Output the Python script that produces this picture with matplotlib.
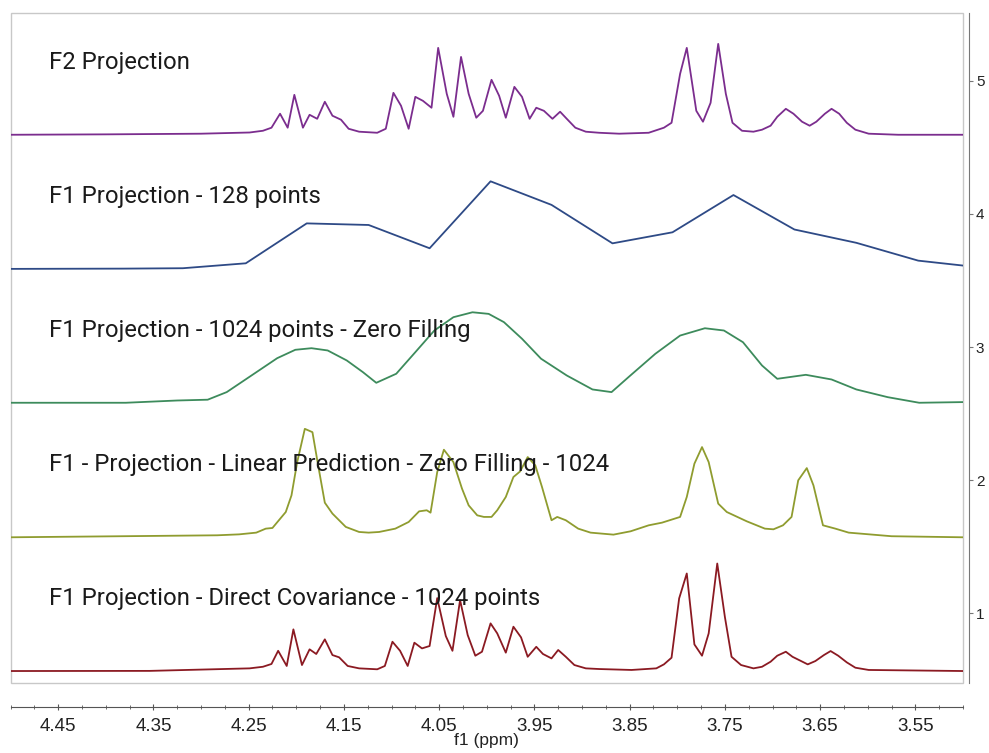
import numpy as np
import matplotlib
matplotlib.use("Agg")
import matplotlib.pyplot as plt
from matplotlib.patches import Rectangle
from matplotlib.ticker import MultipleLocator, FixedLocator

# F2 projection (purple)
f2_ppm = [4.500, 4.400, 4.300, 4.249, 4.235, 4.226, 4.217, 4.209, 4.202, 4.193, 4.186, 4.178, 4.170,
          4.162, 4.153, 4.145, 4.134, 4.115, 4.106, 4.098, 4.090, 4.082, 4.075, 4.067, 4.058, 4.051,
          4.042, 4.035, 4.027, 4.019, 4.011, 4.004, 3.995, 3.987, 3.980, 3.971, 3.963, 3.955, 3.948,
          3.940, 3.931, 3.923, 3.916, 3.907, 3.896, 3.882, 3.861, 3.830, 3.814, 3.806, 3.797, 3.790,
          3.780, 3.773, 3.765, 3.757, 3.749, 3.742, 3.732, 3.720, 3.711, 3.702, 3.695, 3.686, 3.678,
          3.669, 3.661, 3.654, 3.645, 3.638, 3.630, 3.622, 3.613, 3.599, 3.568, 3.500]
f2_int = [0.0, 0.003, 0.008, 0.017, 0.030, 0.053, 0.158, 0.053, 0.300, 0.053, 0.150, 0.120, 0.248,
          0.143, 0.113, 0.045, 0.023, 0.015, 0.045, 0.315, 0.218, 0.045, 0.285, 0.255, 0.203, 0.653,
          0.308, 0.135, 0.585, 0.308, 0.128, 0.180, 0.413, 0.293, 0.128, 0.360, 0.285, 0.120, 0.203,
          0.180, 0.120, 0.173, 0.120, 0.053, 0.023, 0.015, 0.008, 0.015, 0.053, 0.090, 0.458, 0.653,
          0.180, 0.098, 0.240, 0.683, 0.308, 0.090, 0.030, 0.023, 0.038, 0.068, 0.135, 0.195, 0.158,
          0.098, 0.068, 0.098, 0.158, 0.195, 0.158, 0.090, 0.038, 0.008, 0.0, 0.0]

# F1 projection, 128 points (blue)
f1_128_ppm = [4.500, 4.446, 4.382, 4.319, 4.253, 4.189, 4.124, 4.060, 3.996, 3.932, 3.868, 3.805,
              3.741, 3.677, 3.612, 3.547, 3.500]
f1_128_int = [0.0, 0.001, 0.002, 0.005, 0.042, 0.342, 0.330, 0.155, 0.658, 0.481, 0.192, 0.275,
              0.555, 0.296, 0.196, 0.062, 0.025]

# F1 projection, 1024 points zero filling (green)
f1_zf_ppm = [4.500, 4.379, 4.325, 4.293, 4.273, 4.247, 4.220, 4.201, 4.184, 4.167, 4.147, 4.130,
             4.116, 4.095, 4.075, 4.055, 4.035, 4.015, 3.998, 3.982, 3.963, 3.943, 3.916, 3.889,
             3.869, 3.850, 3.823, 3.797, 3.771, 3.751, 3.731, 3.711, 3.695, 3.665, 3.638, 3.612,
             3.579, 3.546, 3.500]
f1_zf_int = [0.0, 0.0, 0.017, 0.023, 0.080, 0.205, 0.335, 0.398, 0.410, 0.393, 0.318, 0.230,
             0.150, 0.218, 0.380, 0.543, 0.643, 0.680, 0.668, 0.606, 0.481, 0.331, 0.205, 0.100,
             0.080, 0.200, 0.368, 0.505, 0.560, 0.543, 0.455, 0.280, 0.180, 0.210, 0.175, 0.100,
             0.042, 0.0, 0.005]

# F1 projection, linear prediction + zero filling (olive)
f1_lp_ppm = [4.500, 4.354, 4.283, 4.260, 4.242, 4.232, 4.225, 4.211, 4.205, 4.199, 4.191, 4.183,
             4.177, 4.170, 4.162, 4.148, 4.134, 4.124, 4.113, 4.096, 4.082, 4.071, 4.063, 4.059,
             4.052, 4.045, 4.035, 4.026, 4.019, 4.010, 4.003, 3.995, 3.989, 3.980, 3.972, 3.965,
             3.957, 3.949, 3.942, 3.932, 3.926, 3.917, 3.904, 3.891, 3.867, 3.849, 3.830, 3.816,
             3.797, 3.790, 3.782, 3.774, 3.767, 3.757, 3.748, 3.727, 3.708, 3.699, 3.689, 3.680,
             3.673, 3.664, 3.657, 3.647, 3.634, 3.620, 3.575, 3.500]
f1_lp_int = [0.0, 0.010, 0.015, 0.022, 0.035, 0.065, 0.070, 0.190, 0.315, 0.565, 0.815, 0.790,
             0.540, 0.260, 0.178, 0.078, 0.040, 0.035, 0.040, 0.065, 0.115, 0.195, 0.203, 0.185,
             0.490, 0.658, 0.565, 0.366, 0.240, 0.165, 0.153, 0.153, 0.203, 0.303, 0.453, 0.495,
             0.603, 0.540, 0.378, 0.128, 0.153, 0.128, 0.065, 0.035, 0.020, 0.045, 0.090, 0.110,
             0.153, 0.303, 0.553, 0.678, 0.565, 0.253, 0.190, 0.120, 0.065, 0.060, 0.090, 0.153,
             0.428, 0.520, 0.390, 0.090, 0.065, 0.035, 0.008, 0.0]

# F1 projection, direct covariance (dark red)
f1_dc_ppm = [4.500, 4.354, 4.249, 4.235, 4.226, 4.219, 4.210, 4.203, 4.194, 4.186, 4.179, 4.170,
             4.162, 4.155, 4.146, 4.134, 4.115, 4.107, 4.099, 4.091, 4.083, 4.076, 4.068, 4.060,
             4.052, 4.043, 4.036, 4.028, 4.020, 4.012, 4.005, 3.996, 3.989, 3.980, 3.972, 3.964,
             3.957, 3.948, 3.941, 3.932, 3.925, 3.917, 3.908, 3.896, 3.882, 3.848, 3.822, 3.814,
             3.806, 3.798, 3.790, 3.782, 3.774, 3.767, 3.758, 3.750, 3.743, 3.733, 3.720, 3.711,
             3.702, 3.695, 3.686, 3.679, 3.670, 3.663, 3.655, 3.646, 3.639, 3.631, 3.622, 3.613,
             3.599, 3.500]
f1_dc_int = [0.0, 0.001, 0.020, 0.032, 0.053, 0.152, 0.038, 0.313, 0.045, 0.163, 0.128, 0.238,
             0.120, 0.103, 0.038, 0.020, 0.013, 0.038, 0.220, 0.152, 0.038, 0.213, 0.170, 0.188,
             0.548, 0.263, 0.152, 0.533, 0.270, 0.115, 0.145, 0.358, 0.283, 0.138, 0.333, 0.253,
             0.107, 0.182, 0.128, 0.095, 0.158, 0.107, 0.045, 0.020, 0.015, 0.008, 0.020, 0.050,
             0.100, 0.546, 0.733, 0.200, 0.115, 0.283, 0.808, 0.407, 0.107, 0.045, 0.020, 0.032,
             0.070, 0.115, 0.145, 0.107, 0.075, 0.050, 0.075, 0.120, 0.150, 0.115, 0.065, 0.025,
             0.008, 0.0]

labels = ["F2 Projection",
          "F1 Projection - 128 points",
          "F1 Projection - 1024 points - Zero Filling",
          "F1 - Projection - Linear Prediction - Zero Filling - 1024",
          "F1 Projection - Direct Covariance - 1024 points"]
baselines = [4.595, 3.587, 2.581, 1.570, 0.565]
colors = ["#7b2d8e", "#2e4a86", "#3d8b5c", "#8f9c2f", "#8b1a22"]

traces = [(f2_ppm, f2_int), (f1_128_ppm, f1_128_int), (f1_zf_ppm, f1_zf_int),
          (f1_lp_ppm, f1_lp_int), (f1_dc_ppm, f1_dc_int)]

fig = plt.figure(figsize=(9.89, 7.53), dpi=100)
ax = fig.add_axes([10.5 / 989, 1 - 683 / 753, 952.5 / 989, 670 / 753])

for (ppm, inten), base, col, lab in zip(traces, baselines, colors, labels):
    ax.plot(ppm, np.array(inten) + base, color=col, lw=1.3)
    ax.text(0.0404, base + 0.545, lab, transform=ax.get_yaxis_transform(),
            fontsize=17.2, family="Roboto", color="#1a1a1a", va="center", ha="left")

ax.set_xlim(4.50, 3.50)
ax.set_ylim(0.475, 5.51)

# light frame around the plot area
ax.add_patch(Rectangle((0, 0), 1, 1, transform=ax.transAxes, fill=False,
                       edgecolor="#c8c8c8", lw=1.0, clip_on=False))

for s in ["top", "left"]:
    ax.spines[s].set_visible(False)
# offsets in points (dpi 100): 24 px and 6 px
ax.spines["bottom"].set_position(("outward", 17.3))
ax.spines["right"].set_position(("outward", 4.3))
ax.spines["bottom"].set_color("#555555")
ax.spines["right"].set_color("#777777")

ax.yaxis.tick_right()
ax.yaxis.set_major_locator(FixedLocator([1, 2, 3, 4, 5]))
ax.tick_params(axis="y", direction="out", length=3, colors="#777777",
               labelcolor="#222222", labelsize=11, pad=2)

ax.xaxis.set_major_locator(FixedLocator([4.45, 4.35, 4.25, 4.15, 4.05, 3.95, 3.85, 3.75, 3.65, 3.55]))
ax.xaxis.set_minor_locator(MultipleLocator(0.025))
ax.tick_params(axis="x", which="major", direction="inout", length=4.5, colors="#555555",
               labelcolor="#222222", labelsize=13.5, pad=5.5)
ax.tick_params(axis="x", which="minor", direction="inout", length=3, colors="#555555")
ax.set_xlabel("f1 (ppm)", fontsize=12.5, color="#222222", labelpad=-1)

for lab in ax.get_xticklabels() + ax.get_yticklabels():
    lab.set_family("Liberation Sans")
ax.xaxis.label.set_family("Liberation Sans")

fig.savefig("out.png", dpi=100)
